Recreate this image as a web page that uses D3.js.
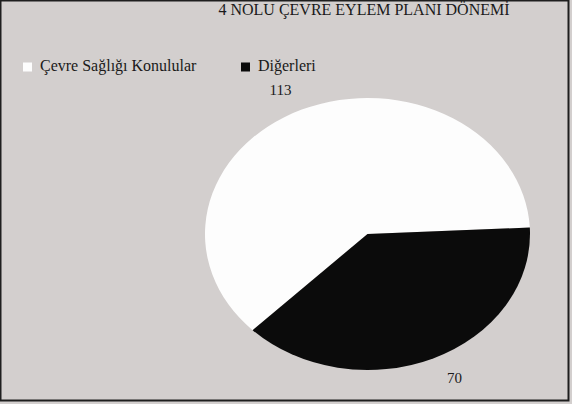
<!DOCTYPE html>
<html>
<head>
<meta charset="utf-8">
<script src="https://cdn.jsdelivr.net/npm/d3@7"></script>
<style>
  html, body { margin: 0; padding: 0; background: #d3cfce; }
  svg { display: block; }
  text { font-family: "Liberation Serif", "Times New Roman", serif; fill: #1a1a1a; }
</style>
</head>
<body>
<svg id="chart" width="572" height="404"></svg>
<script>
// Data
const title = "4 NOLU ÇEVRE EYLEM PLANI DÖNEMİ";
const categories = ["Çevre Sağlığı Konulular", "Diğerleri"];
const values = [113, 70];
const colors = ["#fdfdfd", "#0b0b0b"];

const W = 572, H = 404;
const svg = d3.select("#chart");

// Background and frame
svg.append("rect").attr("x", 0).attr("y", 0).attr("width", W).attr("height", H).attr("fill", "#d3cfce");
svg.append("rect")
  .attr("x", 0.5).attr("y", 0.5).attr("width", 568).attr("height", 400)
  .attr("fill", "none").attr("stroke", "#1e1e1e").attr("stroke-width", 2);

// Title
svg.append("text")
  .attr("x", 364).attr("y", 15)
  .attr("text-anchor", "middle")
  .style("font-size", "16px")
  .text(title);

// Legend
const legendX = [23, 241];
const legend = svg.append("g");
categories.forEach((c, i) => {
  legend.append("rect")
    .attr("x", legendX[i]).attr("y", 62.5)
    .attr("width", 9).attr("height", 9)
    .attr("fill", colors[i]);
  legend.append("text")
    .attr("x", legendX[i] + 17).attr("y", 71)
    .style("font-size", "16px")
    .text(c);
});

// Pie, drawn as a circle then squashed vertically into an ellipse
const cx = 367.5, cy = 234, rx = 162.5, ry = 136;
const k = ry / rx;
const deg = Math.PI / 180;

const pie = d3.pie().sort(null).value(d => d)
  .startAngle(-135 * deg).endAngle(225 * deg);
const arcs = pie(values);
const arc = d3.arc().innerRadius(0).outerRadius(rx);

svg.append("g")
  .attr("transform", `translate(${cx},${cy}) scale(1,${k})`)
  .selectAll("path")
  .data(arcs)
  .join("path")
  .attr("d", arc)
  .attr("fill", (d, i) => colors[i]);

// Value labels placed on a larger ellipse at each slice's mid-angle
const lrx = 215, lry = 157.5;
svg.append("g")
  .selectAll("text")
  .data(arcs)
  .join("text")
  .attr("x", d => cx + lrx * Math.sin((d.startAngle + d.endAngle) / 2))
  .attr("y", d => cy - lry * Math.cos((d.startAngle + d.endAngle) / 2))
  .attr("dy", "0.35em")
  .attr("text-anchor", "middle")
  .style("font-size", "15px")
  .text(d => d.value);
</script>
</body>
</html>
